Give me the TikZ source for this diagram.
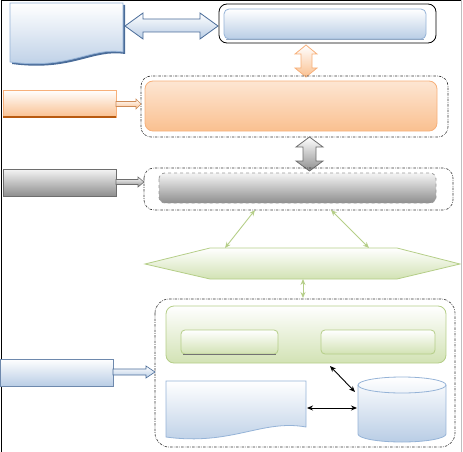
\documentclass[tikz,border=0pt]{standalone}
\usetikzlibrary{arrows.meta}
\definecolor{bluefill}{HTML}{B9CDE5}
\definecolor{blueline}{HTML}{95B3D7}
\definecolor{bluedark}{HTML}{4A6C99}
\definecolor{orfill}{HTML}{FAC090}
\definecolor{orline}{HTML}{F7B07A}
\definecolor{ordark}{HTML}{B85A10}
\definecolor{grfill}{HTML}{8E8E8E}
\definecolor{grline}{HTML}{6E6E6E}
\definecolor{gnfill}{HTML}{D2E2B4}
\definecolor{gnline}{HTML}{B5CE88}
\tikzset{
  bluebox/.style={top color=white, bottom color=bluefill, draw=blueline, line width=0.8pt},
  orbox/.style={top color=orfill!40, bottom color=orfill, draw=orline, line width=0.8pt},
  graybox/.style={top color=gray!8, bottom color=grfill, draw=grline, line width=0.8pt},
  greenbox/.style={top color=white, bottom color=gnfill, draw=gnline, line width=0.8pt},
  group/.style={draw=black!80, dash pattern=on 2.5pt off 1.2pt on 0.6pt off 1.2pt, line width=0.6pt, rounded corners=10pt},
  thinarrow/.style={{Stealth[length=6pt,width=5pt]}-{Stealth[length=6pt,width=5pt]}, line width=0.9pt},
}
\begin{document}
\begin{tikzpicture}[x=1pt,y=-1pt]
\useasboundingbox (0,0) rectangle (463,452);
% frame
\draw[black, line width=1pt] (1.5,452) -- (1.5,0.5) -- (462,0.5);
\draw[black!25, line width=0.8pt] (461.5,0.5) -- (461.5,452);

% ---- top row ----
\fill[bluedark] (12,5) -- (125,5) -- (125,54) .. controls (92,49) and (72,72) .. (12,64) -- cycle;
\path[bluebox] (10,3) -- (123,3) -- (123,52) .. controls (90,47) and (70,70) .. (10,62) -- cycle;

\path[top color=white, bottom color=bluefill, draw=bluedark, line width=0.8pt]
  (125,26) -- (143,13) -- (143,19) -- (200,19) -- (200,13) -- (218,26) -- (200,39) -- (200,32) -- (143,32) -- (143,39) -- cycle;

\draw[black, line width=0.8pt, rounded corners=8pt] (219,4) rectangle (436,43);
\path[bluebox, rounded corners=5pt] (224,9) rectangle (426,39);
\draw[bluedark!60, line width=0.8pt] (226,39) -- (424,39);
\node[inner sep=0pt, minimum width=202pt, minimum height=30pt] (topbox) at (325,24) {};

% orange vertical double arrow
\path[top color=white, bottom color=orfill, draw=orline, line width=0.8pt]
  (306,45) -- (317,54) -- (312,54) -- (312,68) -- (317,68) -- (306,77) -- (295,68) -- (301,68) -- (301,54) -- (295,54) -- cycle;

% ---- orange row ----
\draw[group] (141,76) rectangle (448,137);
\path[orbox, rounded corners=8pt] (145,81) rectangle (437,131);
\node[inner sep=0pt, minimum width=292pt, minimum height=50pt] (orbig) at (291,106) {};

\path[top color=white, bottom color=orfill, draw=orline, line width=0.8pt] (3,90) rectangle (116,117);
\draw[ordark, line width=1.2pt] (3,117) -- (116,117);
\node[inner sep=0pt, minimum width=113pt, minimum height=27pt] (orleft) at (59.5,103.5) {};
\path[top color=white, bottom color=orfill, draw=ordark!70, line width=0.6pt]
  (116,101.5) -- (136,101.5) -- (136,99) -- (141,104) -- (136,109) -- (136,106.5) -- (116,106.5) -- cycle;

% gray vertical double arrow
\path[top color=white, bottom color=grfill, draw=grline, line width=0.8pt]
  (309.5,137) -- (323,147) -- (316,147) -- (316,161) -- (323,161) -- (309.5,171) -- (296,161) -- (303,161) -- (303,147) -- (296,147) -- cycle;

% ---- gray row ----
\draw[group] (144,168) rectangle (453,210);
\path[graybox, draw=grline!70, dashed, rounded corners=6pt] (159,173) rectangle (436,203);
\node[inner sep=0pt, minimum width=277pt, minimum height=30pt] (graybig) at (297.5,188) {};

\path[graybox] (3,169) rectangle (116,196);
\node[inner sep=0pt, minimum width=113pt, minimum height=27pt] (grleft) at (59.5,182.5) {};
\path[top color=white, bottom color=grfill, draw=grline, line width=0.6pt]
  (116,179.5) -- (138,179.5) -- (138,177) -- (144,182) -- (138,187) -- (138,184.5) -- (116,184.5) -- cycle;

% ---- green hexagon ----
\path[greenbox] (145,264) -- (210,248) -- (397,248) -- (460,264) -- (397,279) -- (210,279) -- cycle;
\coordinate (hexA) at (225,248);
\coordinate (hexB) at (369,248);
\coordinate (hexC) at (303,279);
\coordinate (grayA) at (255,210);
\coordinate (grayB) at (331,210);
\coordinate (botTop) at (303,298);
\draw[thinarrow, gnline] (grayA) -- (hexA);
\draw[thinarrow, gnline] (grayB) -- (hexB);
\draw[thinarrow, gnline] (hexC) -- (botTop);

% ---- bottom group ----
\draw[group, rounded corners=14pt] (155,299) rectangle (455,447);
\path[greenbox, rounded corners=8pt] (166,306) rectangle (446,363);
\node[inner sep=0pt, minimum width=280pt, minimum height=57pt] (greenbig) at (306,334.5) {};
\path[greenbox, rounded corners=4pt] (181,330) rectangle (278,354);
\draw[black!55, line width=0.9pt] (183,354) -- (276,354);
\path[greenbox, rounded corners=4pt] (321,330) rectangle (435,354);

% blue left box + arrow
\path[bluebox, draw=bluedark!80] (0,359) rectangle (113,386);
\path[top color=white, bottom color=bluefill, draw=bluedark, line width=0.6pt]
  (113,369) -- (146,369) -- (146,366) -- (155,372) -- (146,378) -- (146,375) -- (113,375) -- cycle;

% bottom document
\path[bluebox] (166,381) -- (306,381) -- (306,427) .. controls (262,419) and (232,446) .. (166,437) -- cycle;
\node[inner sep=0pt, minimum width=140pt, minimum height=46pt] (doc) at (236,404) {};

% cylinder
\path[top color=white, bottom color=bluefill, draw=blueline, line width=0.8pt]
  (358,385) -- (358,434) arc[start angle=180, end angle=360, x radius=44pt, y radius=8pt]
  -- (446,385) arc[start angle=0, end angle=180, x radius=44pt, y radius=8pt] -- cycle;
\draw[blueline, line width=0.8pt] (358,385) arc[start angle=180, end angle=360, x radius=44pt, y radius=8pt];
\node[inner sep=0pt, minimum width=88pt, minimum height=65pt] (db) at (402,410) {};

\coordinate (gA) at (330,366);
\coordinate (dbA) at (355,392);
\coordinate (docE) at (307,408);
\coordinate (dbW) at (357,408);
\draw[thinarrow, black] (gA) -- (dbA);
\draw[thinarrow, black] (docE) -- (dbW);
\end{tikzpicture}
\end{document}
